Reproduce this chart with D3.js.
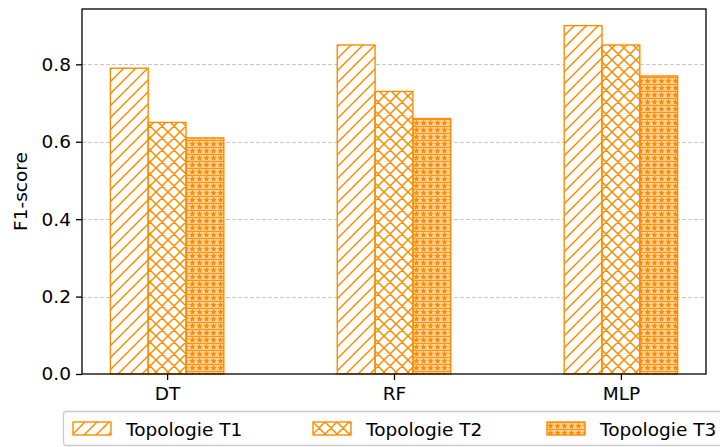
<!DOCTYPE html>
<html>
<head>
<meta charset="utf-8">
<script src="https://cdn.jsdelivr.net/npm/d3@7"></script>
<style>
  body { margin: 0; background: #fff; }
  svg { font-family: 'DejaVu Sans', sans-serif; }
</style>
</head>
<body>
<div id="chart"></div>
<script>
const models = ['DT', 'RF', 'MLP'];
const topologies = ['Topologie T1', 'Topologie T2', 'Topologie T3'];
const scores = [
  [0.79, 0.65, 0.61],  // DT
  [0.85, 0.73, 0.66],  // RF
  [0.90, 0.85, 0.77],  // MLP
];
const yTicks = [0.0, 0.2, 0.4, 0.6, 0.8];

const width = 720;
const height = 447;
const orange = '#ff8c00';
const fontSize = 18.5;
const margin = { top: 9, right: 14, bottom: 73, left: 82 };
const barW = 1 / 6;

const svg = d3.select('#chart').append('svg')
  .attr('width', width)
  .attr('height', height);

const defs = svg.append('defs');

// '//' hatch
const p1 = defs.append('pattern')
  .attr('id', 'hatch1')
  .attr('patternUnits', 'userSpaceOnUse')
  .attr('width', 12)
  .attr('height', 12);
p1.append('path')
  .attr('d', 'M-3,3 L3,-3 M0,12 L12,0 M9,15 L15,9')
  .attr('stroke', orange)
  .attr('stroke-width', 1.5);

// 'xx' hatch
const p2 = defs.append('pattern')
  .attr('id', 'hatch2')
  .attr('patternUnits', 'userSpaceOnUse')
  .attr('width', 12)
  .attr('height', 12);
p2.append('path')
  .attr('d', 'M-3,3 L3,-3 M0,12 L12,0 M9,15 L15,9 M-3,9 L3,15 M0,0 L12,12 M9,-3 L15,3')
  .attr('stroke', orange)
  .attr('stroke-width', 1.5);

// '*' hatch
const starPath = (cx, cy, r) => {
  const pts = [];
  for (let i = 0; i < 10; i++) {
    const rad = i % 2 === 0 ? r : r * 0.45;
    const a = -Math.PI / 2 + i * Math.PI / 5;
    pts.push([cx + rad * Math.cos(a), cy + rad * Math.sin(a)]);
  }
  return 'M' + pts.map(p => p.join(',')).join('L') + 'Z';
};
const p3 = defs.append('pattern')
  .attr('id', 'hatch3')
  .attr('patternUnits', 'userSpaceOnUse')
  .attr('width', 7)
  .attr('height', 7);
p3.append('rect')
  .attr('width', 7).attr('height', 7)
  .attr('fill', orange)
  .attr('opacity', 0.4);
p3.append('path')
  .attr('d', starPath(3.5, 4, 3.3))
  .attr('fill', orange);
p3.append('rect')
  .attr('x', 0).attr('y', 0).attr('width', 7).attr('height', 0.9)
  .attr('fill', orange);

const hatches = ['url(#hatch1)', 'url(#hatch2)', 'url(#hatch3)'];

const x = d3.scaleLinear()
  .domain([-0.375, 2.375])
  .range([margin.left, width - margin.right]);

const y = d3.scaleLinear()
  .domain([0, 0.943])
  .range([height - margin.bottom, margin.top]);

// grid
svg.append('g')
  .selectAll('line')
  .data(yTicks.slice(1))
  .join('line')
  .attr('x1', margin.left)
  .attr('x2', width - margin.right)
  .attr('y1', d => Math.round(y(d)) + 0.5)
  .attr('y2', d => Math.round(y(d)) + 0.5)
  .attr('stroke', '#c8c8c8')
  .attr('stroke-width', 1)
  .attr('stroke-dasharray', '4,2');

// bars
const groups = svg.append('g')
  .selectAll('g')
  .data(scores)
  .join('g');

groups.selectAll('rect')
  .data((d, i) => d.map((v, j) => ({ v, i, j })))
  .join('rect')
  .attr('x', d => x(d.i + (d.j - 1.5) * barW))
  .attr('y', d => y(d.v))
  .attr('width', d => x(barW) - x(0))
  .attr('height', d => y(0) - y(d.v))
  .attr('fill', '#fff')
  .attr('stroke', 'none');

groups.selectAll('rect.h')
  .data((d, i) => d.map((v, j) => ({ v, i, j })))
  .join('rect')
  .attr('class', 'h')
  .attr('x', d => x(d.i + (d.j - 1.5) * barW))
  .attr('y', d => y(d.v))
  .attr('width', d => x(barW) - x(0))
  .attr('height', d => y(0) - y(d.v))
  .attr('fill', d => hatches[d.j])
  .attr('stroke', orange)
  .attr('stroke-width', 1.4);

// axes
const yAxis = svg.append('g')
  .attr('transform', `translate(${margin.left},0)`)
  .call(d3.axisLeft(y).tickValues(yTicks).tickFormat(d3.format('.1f')).tickSize(6).tickPadding(5));

const xAxis = svg.append('g')
  .attr('transform', `translate(0,${height - margin.bottom})`)
  .call(d3.axisBottom(x).tickValues([0, 1, 2]).tickFormat(i => models[i]).tickSize(6).tickPadding(7));

[xAxis, yAxis].forEach(a => {
  a.attr('font-size', fontSize).attr('font-family', 'DejaVu Sans');
  a.select('.domain').remove();
  a.selectAll('text').attr('fill', '#000');
  a.selectAll('line').attr('stroke', '#000').attr('stroke-width', 1.3);
});

// frame
svg.append('rect')
  .attr('x', margin.left)
  .attr('y', margin.top)
  .attr('width', width - margin.left - margin.right)
  .attr('height', height - margin.top - margin.bottom)
  .attr('fill', 'none')
  .attr('stroke', '#000')
  .attr('stroke-width', 1.3);

svg.append('text')
  .attr('transform', `translate(27,${(margin.top + height - margin.bottom) / 2}) rotate(-90)`)
  .attr('text-anchor', 'middle')
  .attr('font-size', fontSize)
  .text('F1-score');

// legend
const legend = svg.append('g');
legend.append('rect')
  .attr('x', 63.5)
  .attr('y', 411.5)
  .attr('width', 680)
  .attr('height', 34)
  .attr('rx', 3)
  .attr('fill', '#fff')
  .attr('stroke', '#cccccc')
  .attr('stroke-width', 1.3);

const legendX = [73, 313, 547];
const items = legend.selectAll('g.item')
  .data(topologies)
  .join('g')
  .attr('class', 'item')
  .attr('transform', (d, i) => `translate(${legendX[i]},422)`);

items.append('rect')
  .attr('width', 38)
  .attr('height', 13)
  .attr('fill', '#fff');
items.append('rect')
  .attr('width', 38)
  .attr('height', 13)
  .attr('fill', (d, i) => hatches[i])
  .attr('stroke', orange)
  .attr('stroke-width', 1.4);
items.append('text')
  .attr('x', 53)
  .attr('y', 13.5)
  .attr('font-size', fontSize)
  .text(d => d);
</script>
</body>
</html>
